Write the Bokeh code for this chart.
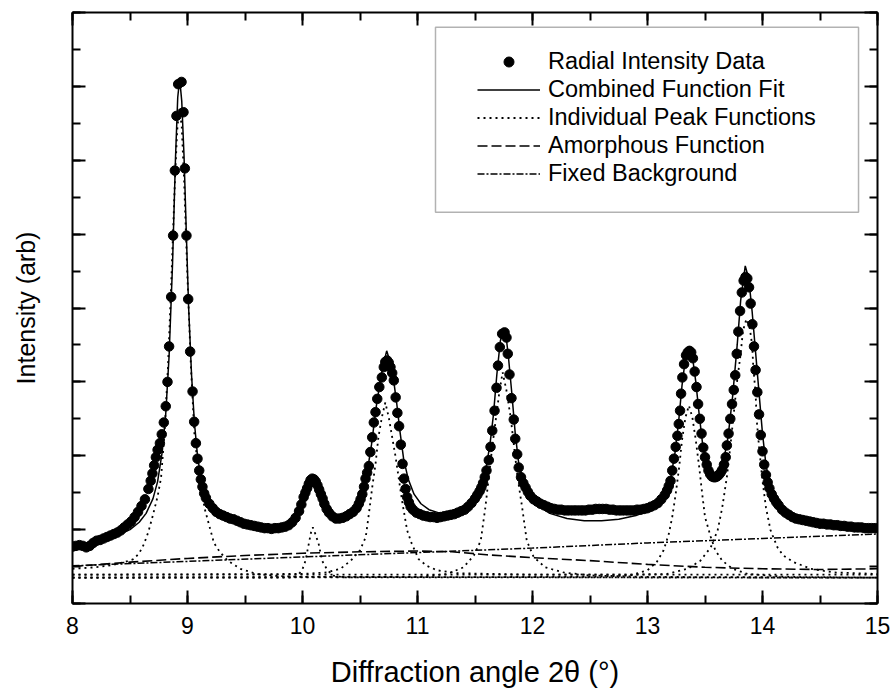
from bokeh.plotting import figure
from bokeh.models import (Range1d, LinearAxis, SingleIntervalTicker, CustomJSTickFormatter,
                          Legend, LegendItem, BoxAnnotation)
from bokeh.embed import file_html
from bokeh.resources import INLINE

FONT = "Liberation Sans"

# ---------------- data ----------------
data_x = [8.00, 8.03, 8.06, 8.09, 8.12, 8.15, 8.18, 8.21, 8.24, 8.27, 8.30, 8.33, 8.36, 8.39, 8.42,
          8.45, 8.48, 8.51, 8.54, 8.57, 8.60, 8.63, 8.66, 8.68, 8.695, 8.71, 8.725, 8.74, 8.76, 8.776,
          8.794, 8.811, 8.826, 8.840, 8.858, 8.875, 8.890, 8.904, 8.919, 8.948, 8.965, 8.977, 8.991,
          9.006, 9.023, 9.044, 9.058, 9.073, 9.087, 9.102, 9.116, 9.13, 9.145, 9.16, 9.19, 9.22, 9.25,
          9.28, 9.31, 9.34, 9.37, 9.40, 9.43, 9.46, 9.49, 9.52, 9.55, 9.58, 9.61, 9.64, 9.67, 9.70,
          9.73, 9.76, 9.79, 9.82, 9.85, 9.88, 9.91, 9.94, 9.97, 9.99, 10.01, 10.025, 10.04, 10.055,
          10.07, 10.085, 10.10, 10.115, 10.13, 10.145, 10.16, 10.175, 10.19, 10.21, 10.23, 10.26,
          10.29, 10.32, 10.35, 10.38, 10.41, 10.44, 10.47, 10.49, 10.505, 10.52, 10.535, 10.548,
          10.562, 10.577, 10.59, 10.606, 10.62, 10.635, 10.65, 10.668, 10.69, 10.707, 10.72, 10.736,
          10.75, 10.765, 10.78, 10.794, 10.81, 10.825, 10.84, 10.855, 10.87, 10.883, 10.896, 10.91,
          10.925, 10.94, 10.96, 10.99, 11.02, 11.05, 11.08, 11.11, 11.14, 11.17, 11.20, 11.23, 11.26,
          11.29, 11.32, 11.35, 11.38, 11.41, 11.44, 11.47, 11.50, 11.52, 11.54, 11.555, 11.57, 11.585,
          11.60, 11.62, 11.635, 11.65, 11.67, 11.687, 11.70, 11.716, 11.736, 11.757, 11.774, 11.785,
          11.80, 11.817, 11.837, 11.85, 11.867, 11.88, 11.90, 11.92, 11.94, 11.96, 11.98, 12.01, 12.04,
          12.07, 12.10, 12.13, 12.16, 12.19, 12.22, 12.25, 12.28, 12.31, 12.34, 12.37, 12.40, 12.43,
          12.46, 12.49, 12.52, 12.55, 12.58, 12.61, 12.64, 12.67, 12.70, 12.73, 12.76, 12.79, 12.82,
          12.85, 12.88, 12.91, 12.94, 12.97, 13.00, 13.03, 13.06, 13.09, 13.12, 13.15, 13.17, 13.185,
          13.20, 13.215, 13.23, 13.245, 13.26, 13.272, 13.283, 13.292, 13.303, 13.318, 13.335, 13.35,
          13.365, 13.38, 13.395, 13.41, 13.426, 13.44, 13.455, 13.47, 13.485, 13.50, 13.515, 13.53,
          13.545, 13.56, 13.576, 13.59, 13.605, 13.62, 13.635, 13.65, 13.665, 13.68, 13.69, 13.705,
          13.72, 13.735, 13.75, 13.763, 13.776, 13.79, 13.805, 13.82, 13.836, 13.852, 13.868, 13.883,
          13.897, 13.912, 13.926, 13.94, 13.955, 13.97, 13.985, 14.00, 14.015, 14.03, 14.045, 14.06,
          14.08, 14.10, 14.12, 14.14, 14.17, 14.20, 14.23, 14.26, 14.29, 14.32, 14.35, 14.38, 14.41,
          14.44, 14.47, 14.50, 14.53, 14.56, 14.59, 14.62, 14.65, 14.68, 14.71, 14.74, 14.77, 14.80,
          14.83, 14.86, 14.89, 14.92, 14.95, 14.98]
data_y = [0.77, 0.78, 0.79, 0.78, 0.76, 0.78, 0.82, 0.85, 0.86, 0.88, 0.90, 0.92, 0.94, 0.96, 0.99,
          1.03, 1.07, 1.11, 1.17, 1.24, 1.32, 1.41, 1.55, 1.66, 1.76, 1.87, 1.98, 2.08, 2.17, 2.29,
          2.45, 2.67, 3.00, 3.48, 4.15, 4.98, 5.86, 6.60, 7.03, 7.06, 6.65, 5.89, 4.98,
          4.12, 3.41, 2.87, 2.46, 2.17, 1.96, 1.80, 1.68, 1.58, 1.49, 1.43, 1.35, 1.29, 1.24,
          1.21, 1.19, 1.17, 1.15, 1.14, 1.12, 1.10, 1.08, 1.07, 1.06, 1.05, 1.04, 1.03, 1.02, 1.02,
          1.01, 1.02, 1.02, 1.03, 1.04, 1.06, 1.10, 1.16, 1.25, 1.34, 1.44, 1.50, 1.56, 1.62,
          1.67, 1.69, 1.68, 1.65, 1.60, 1.54, 1.48, 1.42, 1.35, 1.28, 1.23, 1.18,
          1.15, 1.15, 1.16, 1.18, 1.21, 1.24, 1.29, 1.35, 1.41, 1.48, 1.58, 1.69,
          1.77, 1.86, 2.05, 2.25, 2.45, 2.59, 2.77, 2.93, 3.06, 3.20, 3.27, 3.29,
          3.26, 3.20, 3.12, 3.02, 2.79, 2.58, 2.40, 2.15, 1.89, 1.69, 1.55, 1.44,
          1.37, 1.31, 1.27, 1.23, 1.21, 1.19, 1.18, 1.17, 1.17, 1.16, 1.17, 1.18, 1.19,
          1.20, 1.21, 1.23, 1.25, 1.27, 1.31, 1.36, 1.42, 1.47, 1.52, 1.57, 1.63, 1.71,
          1.80, 1.94, 2.12, 2.34, 2.61, 2.92, 3.22, 3.47, 3.65, 3.67, 3.60, 3.38,
          3.10, 2.78, 2.49, 2.23, 2.02, 1.84, 1.71, 1.63, 1.57, 1.51, 1.46, 1.41, 1.38,
          1.35, 1.33, 1.31, 1.29, 1.28, 1.27, 1.27, 1.26, 1.26, 1.26, 1.26, 1.26, 1.26,
          1.26, 1.27, 1.27, 1.28, 1.28, 1.28, 1.28, 1.27, 1.27, 1.26, 1.26, 1.26, 1.26,
          1.26, 1.26, 1.27, 1.27, 1.28, 1.29, 1.31, 1.33, 1.36, 1.41, 1.47, 1.53, 1.59,
          1.66, 1.80, 1.96, 2.12, 2.27, 2.43, 2.61, 2.84, 3.06, 3.24, 3.36, 3.40,
          3.42, 3.40, 3.32, 3.14, 2.93, 2.70, 2.50, 2.30, 2.11, 1.98, 1.88, 1.80,
          1.75, 1.72, 1.71, 1.71, 1.72, 1.74, 1.77, 1.81, 1.88, 1.98, 2.14, 2.30,
          2.50, 2.70, 2.89, 3.09, 3.38, 3.68, 3.96, 4.21, 4.37, 4.42, 4.40, 4.28,
          4.06, 3.78, 3.48, 3.16, 2.86, 2.56, 2.28, 2.06, 1.88, 1.74, 1.64, 1.56,
          1.48, 1.42, 1.37, 1.33, 1.27, 1.23, 1.20, 1.17, 1.15, 1.14, 1.13, 1.12, 1.11,
          1.10, 1.09, 1.08, 1.08, 1.07, 1.07, 1.06, 1.06, 1.05, 1.05, 1.04, 1.04, 1.03,
          1.03, 1.03, 1.02, 1.02, 1.02, 1.02]

fit_x = [8.00, 8.10, 8.20, 8.30, 8.40, 8.50, 8.58, 8.64, 8.70, 8.74, 8.78, 8.81, 8.84, 8.87, 8.895,
         8.915, 8.932, 8.950, 8.97, 8.99, 9.01, 9.035, 9.06, 9.09, 9.13, 9.18, 9.25, 9.35, 9.50,
         9.65, 9.78, 9.88, 9.95, 10.00, 10.04, 10.085, 10.13, 10.18, 10.24, 10.31, 10.40, 10.47,
         10.52, 10.56, 10.60, 10.64, 10.68, 10.705, 10.732, 10.76, 10.79, 10.82, 10.85, 10.88,
         10.92, 10.97, 11.03, 11.10, 11.20, 11.30, 11.40, 11.48, 11.54, 11.59, 11.63, 11.66, 11.69,
         11.72, 11.745, 11.77, 11.79, 11.82, 11.85, 11.88, 11.92, 11.97, 12.05, 12.15, 12.30, 12.45,
         12.60, 12.75, 12.90, 13.00, 13.08, 13.15, 13.20, 13.24, 13.27, 13.30, 13.33, 13.362, 13.39,
         13.42, 13.45, 13.48, 13.51, 13.55, 13.58, 13.62, 13.66, 13.70, 13.74, 13.78, 13.81, 13.85,
         13.88, 13.91, 13.94, 13.97, 14.00, 14.03, 14.07, 14.12, 14.20, 14.35, 14.50, 14.70, 15.00]
fit_y = [0.78, 0.79, 0.82, 0.87, 0.93, 1.00, 1.10, 1.22, 1.42, 1.65, 2.05, 2.55, 3.35, 4.60, 6.00,
         6.85, 7.10, 6.80, 6.05, 5.00, 4.00, 3.10, 2.45, 1.95, 1.62, 1.40, 1.25, 1.16, 1.08,
         1.04, 1.03, 1.07, 1.18, 1.38, 1.57, 1.70, 1.60, 1.40, 1.22, 1.15, 1.18, 1.28,
         1.45, 1.75, 2.15, 2.65, 3.05, 3.25, 3.42, 3.28, 3.05, 2.70, 2.30, 1.95,
         1.68, 1.48, 1.35, 1.27, 1.22, 1.21, 1.26, 1.36, 1.52, 1.78, 2.15, 2.55, 3.10,
         3.55, 3.72, 3.62, 3.35, 2.85, 2.30, 1.90, 1.64, 1.47, 1.32, 1.22, 1.15, 1.12,
         1.12, 1.14, 1.19, 1.25, 1.34, 1.48, 1.68, 2.05, 2.45, 2.95, 3.32, 3.48, 3.35,
         3.00, 2.55, 2.15, 1.90, 1.76, 1.73, 1.77, 1.92, 2.25, 2.80, 3.50, 4.10, 4.57,
         4.40, 3.95, 3.40, 2.85, 2.30, 1.88, 1.56, 1.37, 1.23, 1.13, 1.08, 1.04, 1.02]

peak1_x = [8.00, 8.20, 8.35, 8.45, 8.53, 8.58, 8.62, 8.66, 8.70, 8.74, 8.77, 8.80, 8.83, 8.86, 8.89,
           8.91, 8.93, 8.95, 8.97, 9.00, 9.03, 9.06, 9.09, 9.12, 9.15, 9.19, 9.23, 9.28, 9.35, 9.46,
           9.60, 9.80, 10.00, 15.00]
peak1_y = [0.47, 0.49, 0.52, 0.56, 0.60, 0.68, 0.80, 0.97, 1.20, 1.45, 1.70, 2.30, 3.20, 4.40, 5.70,
           6.40, 6.72, 6.45, 5.75, 4.40, 3.20, 2.30, 1.85, 1.55, 1.28, 1.05, 0.82, 0.70, 0.58, 0.47,
           0.40, 0.37, 0.36, 0.35]
peak2_x = [8.00, 9.90, 9.95, 9.997, 10.026, 10.055, 10.075, 10.09, 10.105, 10.14, 10.17, 10.21, 10.26,
           10.35, 15.00]
peak2_y = [0.35, 0.35, 0.37, 0.45, 0.58, 0.81, 0.97, 1.03, 0.97, 0.81, 0.58, 0.47, 0.38, 0.355, 0.35]
peak3_x = [8.00, 10.00, 10.21, 10.33, 10.42, 10.50, 10.55, 10.577, 10.606, 10.635, 10.66, 10.69, 10.72,
           10.75, 10.78, 10.81, 10.84, 10.87, 10.91, 10.95, 11.01, 11.08, 11.17, 11.35, 12.00, 15.00]
peak3_y = [0.39, 0.40, 0.42, 0.47, 0.58, 0.72, 0.90, 1.21, 1.57, 1.89, 2.25, 2.52, 2.72,
           2.52, 2.25, 1.98, 1.66, 1.35, 0.99, 0.81, 0.60, 0.51, 0.45, 0.41, 0.39, 0.39]
peak4_x = [8.00, 11.00, 11.26, 11.40, 11.49, 11.55, 11.59, 11.62, 11.65, 11.68, 11.71, 11.74, 11.774,
           11.81, 11.84, 11.87, 11.91, 11.95, 12.01, 12.11, 12.27, 12.50, 13.00, 15.00]
peak4_y = [0.35, 0.36, 0.40, 0.49, 0.65, 0.85, 1.30, 1.71, 2.12, 2.48, 2.84, 3.13, 2.88,
           2.52, 2.12, 1.71, 1.30, 0.85, 0.63, 0.49, 0.42, 0.38, 0.36, 0.35]
peak5_x = [8.00, 12.50, 12.85, 13.00, 13.08, 13.14, 13.185, 13.215, 13.245, 13.275, 13.30, 13.33, 13.36,
           13.39, 13.42, 13.45, 13.476, 13.50, 13.55, 13.59, 13.65, 13.74, 13.87, 14.20, 15.00]
peak5_y = [0.35, 0.36, 0.38, 0.45, 0.56, 0.72, 0.94, 1.17, 1.48, 1.84, 2.21, 2.52, 2.68,
           2.52, 2.21, 1.84, 1.48, 1.17, 0.90, 0.72, 0.58, 0.47, 0.40, 0.36, 0.35]
peak6_x = [8.00, 12.80, 13.17, 13.35, 13.46, 13.55, 13.61, 13.65, 13.69, 13.72, 13.75, 13.78, 13.81,
           13.83, 13.86, 13.89, 13.91, 13.92, 13.94, 13.95, 13.97, 14.00, 14.03, 14.07, 14.13, 14.18,
           14.27, 14.42, 14.62, 15.00]
peak6_y = [0.39, 0.39, 0.40, 0.47, 0.58, 0.76, 0.99, 1.30, 1.71, 2.12, 2.57, 3.02, 3.38,
           3.69, 3.85, 3.72, 3.50, 3.20, 2.84, 2.48, 2.12, 1.66, 1.30, 0.99, 0.76, 0.65,
           0.56, 0.47, 0.42, 0.40]

amorph_x = [8.0, 8.5, 9.0, 9.5, 10.0, 10.5, 11.0, 11.3, 11.6, 12.0, 12.5, 13.0, 13.5, 14.0, 14.5, 15.0]
amorph_y = [0.50, 0.56, 0.61, 0.65, 0.68, 0.70, 0.71, 0.70, 0.66, 0.62, 0.58, 0.53, 0.49, 0.47, 0.46, 0.47]

bg_x = [8.0, 9.0, 10.0, 11.0, 12.0, 13.0, 14.0, 15.0]
bg_y = [0.51, 0.57, 0.63, 0.69, 0.75, 0.82, 0.88, 0.94]

legend_labels = ["Radial Intensity Data", "Combined Function Fit", "Individual Peak Functions",
                 "Amorphous Function", "Fixed Background"]

# ---------------- figure ----------------
p = figure(width=891, height=694, output_backend="svg", toolbar_location=None,
           x_range=Range1d(8, 15), y_range=Range1d(0, 8),
           x_axis_location=None, y_axis_location=None,
           min_border_left=72, min_border_right=14, min_border_top=12, min_border_bottom=91)
p.xgrid.visible = False
p.ygrid.visible = False
p.outline_line_color = None
p.background_fill_color = "white"
p.border_fill_color = "white"


def style_axis(ax, labels):
    ax.axis_line_width = 2
    ax.axis_line_color = "black"
    ax.major_tick_in = 13
    ax.major_tick_out = 0
    ax.minor_tick_in = 8
    ax.minor_tick_out = 0
    ax.major_tick_line_width = 2
    ax.minor_tick_line_width = 2
    if not labels:
        ax.formatter = CustomJSTickFormatter(code="return ''")
        ax.major_label_text_font_size = "0px"
        ax.major_label_standoff = 0


xb = LinearAxis(ticker=SingleIntervalTicker(interval=1, num_minor_ticks=2))
style_axis(xb, True)
xb.major_label_text_font = FONT
xb.major_label_text_font_size = "23px"
xb.major_label_text_color = "black"
xb.major_label_standoff = 13
xb.axis_label = "Diffraction angle 2\u03b8 (\u00b0)"
xb.axis_label_text_font = FONT
xb.axis_label_text_font_size = "29px"
xb.axis_label_text_font_style = "normal"
xb.axis_label_text_color = "black"
xb.axis_label_standoff = 19
p.add_layout(xb, "below")

xt = LinearAxis(ticker=SingleIntervalTicker(interval=1, num_minor_ticks=2))
style_axis(xt, False)
p.add_layout(xt, "above")

yl = LinearAxis(ticker=SingleIntervalTicker(interval=1, num_minor_ticks=2))
style_axis(yl, False)
yl.axis_label = "Intensity (arb)"
yl.axis_label_text_font = FONT
yl.axis_label_text_font_size = "25px"
yl.axis_label_text_font_style = "normal"
yl.axis_label_text_color = "black"
yl.axis_label_standoff = 33
p.add_layout(yl, "left")

yr = LinearAxis(ticker=SingleIntervalTicker(interval=1, num_minor_ticks=2))
style_axis(yr, False)
p.add_layout(yr, "right")

# ---------------- glyphs ----------------
r_peaks = p.multi_line([peak1_x, peak2_x, peak3_x, peak4_x, peak5_x, peak6_x],
                       [peak1_y, peak2_y, peak3_y, peak4_y, peak5_y, peak6_y],
                       line_color="black", line_width=1.8, line_dash="2 4")
r_bg = p.line(bg_x, bg_y, line_color="black", line_width=1.5, line_dash="7 2 2 2")
r_am = p.line(amorph_x, amorph_y, line_color="black", line_width=1.6, line_dash="10 4")
r_data = p.scatter(data_x, data_y, size=9.5, fill_color="black", line_color="black", marker="circle")
r_fit = p.line(fit_x, fit_y, line_color="black", line_width=1.5)

box = BoxAnnotation(left=11.1565, right=14.835, top=7.801, bottom=5.297,
                    fill_color="white", fill_alpha=1.0, line_color="black", line_width=1.5,
                    propagate_hover=False)
p.add_layout(box)

legend = Legend(items=[LegendItem(label=legend_labels[0], renderers=[r_data]),
                       LegendItem(label=legend_labels[1], renderers=[r_fit]),
                       LegendItem(label=legend_labels[2], renderers=[r_peaks]),
                       LegendItem(label=legend_labels[3], renderers=[r_am]),
                       LegendItem(label=legend_labels[4], renderers=[r_bg])],
                location=(405, 416), padding=0, margin=0, spacing=1,
                label_height=25, glyph_height=25, glyph_width=63, label_standoff=8,
                label_text_font=FONT, label_text_font_size="23.5px", label_text_color="black",
                border_line_color=None, background_fill_alpha=0)
p.add_layout(legend)

open("out.html", "w").write(file_html(p, INLINE))
